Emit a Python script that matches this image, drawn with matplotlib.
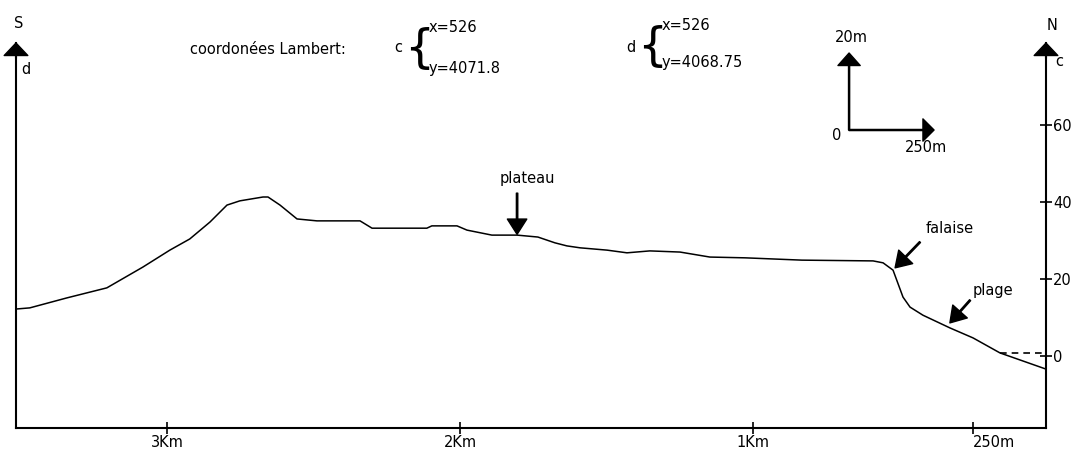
import matplotlib
matplotlib.use('Agg')
import matplotlib.pyplot as plt

# profile: distance from point c (m) and altitude (m)
distance = [3515, 3468, 3341, 3205, 3082, 2990, 2922, 2853, 2795, 2751, 2672, 2655,
            2614, 2556, 2488, 2341, 2300, 2113, 2096, 2010, 1976, 1891, 1805, 1734,
            1676, 1635, 1590, 1498, 1430, 1352, 1249, 1147, 1027, 833, 590, 556,
            522, 488, 464, 420, 328, 249, 157, 0]
altitude = [12.2, 12.5, 15.1, 17.7, 23.1, 27.5, 30.4, 34.8, 39.2, 40.3, 41.3, 41.3,
            39.2, 35.6, 35.1, 35.1, 33.2, 33.2, 33.8, 33.8, 32.7, 31.4, 31.4, 30.9,
            29.4, 28.6, 28.1, 27.5, 26.8, 27.3, 27.0, 25.7, 25.5, 24.9, 24.7, 24.2,
            22.3, 15.3, 12.7, 10.6, 7.3, 4.7, 0.8, -3.4]

x_ticks = [3000, 2000, 1000, 250]
x_labels = ['3Km', '2Km', '1Km', '250m']
y_ticks = [0, 20, 40, 60]

# annotations: label, text position, arrow start, arrow tip (m, m)
notes = [('plateau', (1771, 46.2), (1805, 42.3), (1805, 31.6)),
         ('falaise', (328, 33.2), (430, 29.6), (515, 22.9)),
         ('plage', (181, 17.1), (259, 14.5), (328, 8.6))]

W, H = 1079, 455
FS = 10.5
fig = plt.figure(figsize=(W / 100, H / 100), dpi=100)
ax = fig.add_axes([16 / W, 27 / H, 1030 / W, 385 / H])

ax.plot(distance, altitude, color='black', lw=1.1)
# sea level
ax.plot([distance[-2], 0], [altitude[-2], altitude[-2]], color='black', lw=1.2,
        ls=(0, (4, 3)))

ax.set_xlim(3515, 0)
ax.set_ylim(-18.7, 81.3)

for side in ['left', 'right', 'bottom']:
    ax.spines[side].set_linewidth(1.5)
ax.spines['top'].set_visible(False)

ax.set_xticks(x_ticks)
ax.set_xticklabels(x_labels)
ax.tick_params(axis='x', direction='inout', length=8, width=1.2, labelsize=FS, pad=1)
ax.get_xticklabels()[-1].set_horizontalalignment('left')

ax.yaxis.tick_right()
ax.set_yticks(y_ticks)
ax.tick_params(axis='y', direction='inout', length=8, width=1.2, labelsize=FS, pad=1)

# arrow heads on top of both axes
head = dict(facecolor='black', edgecolor='black', width=0.5, headwidth=17,
            headlength=9, shrink=0)
for xa in [0, 1]:
    ax.annotate('', xy=(xa, 1), xytext=(xa, 0.96), xycoords='axes fraction',
                arrowprops=head)

for label, tpos, start, tip in notes:
    ax.annotate('', xy=tip, xytext=start,
                arrowprops=dict(facecolor='black', edgecolor='black', width=1,
                                headwidth=14, headlength=11, shrink=0))
    ax.text(tpos[0], tpos[1], label, ha='center', va='center', fontsize=FS)

# scale: 20 m up, 250 m across
d0, e0 = 672, 58.7
ax.annotate('', xy=(d0, e0 + 20), xytext=(d0, e0),
            arrowprops=dict(facecolor='black', edgecolor='black', width=0.8,
                            headwidth=16, headlength=9, shrink=0))
ax.annotate('', xy=(d0 - 290, e0), xytext=(d0, e0),
            arrowprops=dict(facecolor='black', edgecolor='black', width=0.8,
                            headwidth=16, headlength=8, shrink=0))


def ftxt(px, py, s, ha='left', size=FS):
    fig.text(px / W, 1 - py / H, s, ha=ha, va='center', fontsize=size)


ftxt(851, 37, '20m', ha='center')
ftxt(837, 136, '0', ha='center')
ftxt(926, 148, '250m', ha='center')

ftxt(19, 23, 'S', ha='center')
ftxt(21, 70, 'd')
ftxt(1052, 26, 'N', ha='center')
ftxt(1055, 61, 'c')

ftxt(190, 50, 'coordonées Lambert:')
ftxt(398, 48, 'c', ha='center')
ftxt(419, 49, '{', ha='center', size=34)
ftxt(429, 28, 'x=526')
ftxt(429, 68, 'y=4071.8')
ftxt(631, 47, 'd', ha='center')
ftxt(652, 47, '{', ha='center', size=34)
ftxt(662, 26, 'x=526')
ftxt(662, 63, 'y=4068.75')

fig.savefig('out.png', dpi=100)
